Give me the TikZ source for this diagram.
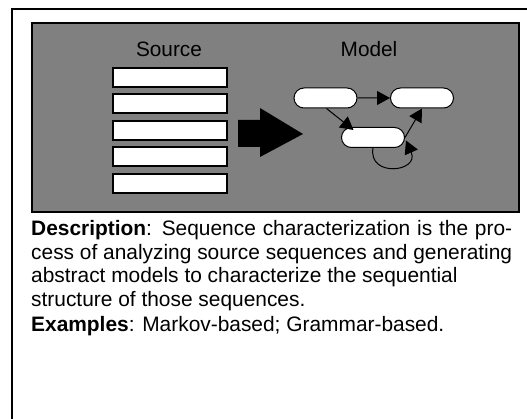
\documentclass[tikz,border=0pt]{standalone}
\usepackage{fontspec}
\setmainfont{Liberation Sans}
\usetikzlibrary{arrows.meta,calc,shapes.misc}
\begin{document}
\begin{tikzpicture}[x=1pt,y=-1pt,
  srcbox/.style={draw=black,line width=2pt,fill=white,minimum width=114pt,minimum height=19pt,inner sep=0pt},
  state/.style={draw=black,line width=1pt,fill=white,rounded rectangle,minimum width=63pt,minimum height=20pt,inner sep=0pt},
  link/.style={line width=1pt,-{Triangle[length=13pt,width=14pt]}},
  lbl/.style={font=\fontsize{20.8}{23.5}\selectfont,inner sep=0pt},
  body/.style={font=\fontsize{20.9}{23.5}\selectfont,inner sep=0pt}
]
\useasboundingbox (0,0) rectangle (527,419);
\draw[line width=2pt] (12,419) -- (12,9) -- (527,9);
\draw[line width=2pt,fill={rgb,255:red,128;green,128;blue,128}] (32,23) rectangle (519,212);
\node[lbl] (srclbl) at (169,49) {Source};
\node[lbl] (modlbl) at (369,49) {Model};
\node[srcbox] (s1) at (169.5,77.5) {};
\node[srcbox] (s2) at (169.5,104) {};
\node[srcbox] (s3) at (169.5,130.5) {};
\node[srcbox] (s4) at (169.5,157) {};
\node[srcbox] (s5) at (169.5,183.5) {};
\fill[black] (238,120) -- (260,120) -- (260,108) -- (303,134) -- (260,157) -- (260,147) -- (238,147) -- cycle;
\node[state] (A) at (325.5,98) {};
\node[state] (B) at (422,98) {};
\node[state] (C) at (373,137.5) {};
\draw[link] (A) -- (B);
\draw[link] ($(A.south)+(1,0)$) -- ($(C.north west)+(2,3)$);
\draw[link] (C.east) -- (B.south);
\draw[link] (C.south) .. controls (368,178) and (420,172) .. ($(C.east)+(1,3)$);
\node[body,anchor=base west,text width=481pt,align=justify] (desc) at (31,236)
 {\textbf{Description}: Sequence characterization is the pro-\linebreak cess of analyzing source sequences and generating\linebreak abstract models to characterize the sequential\\ structure of those sequences.};
\node[body,anchor=base west] (ex) at (31,331) {\textbf{Examples}: Markov-based; Grammar-based.};
\end{tikzpicture}
\end{document}
